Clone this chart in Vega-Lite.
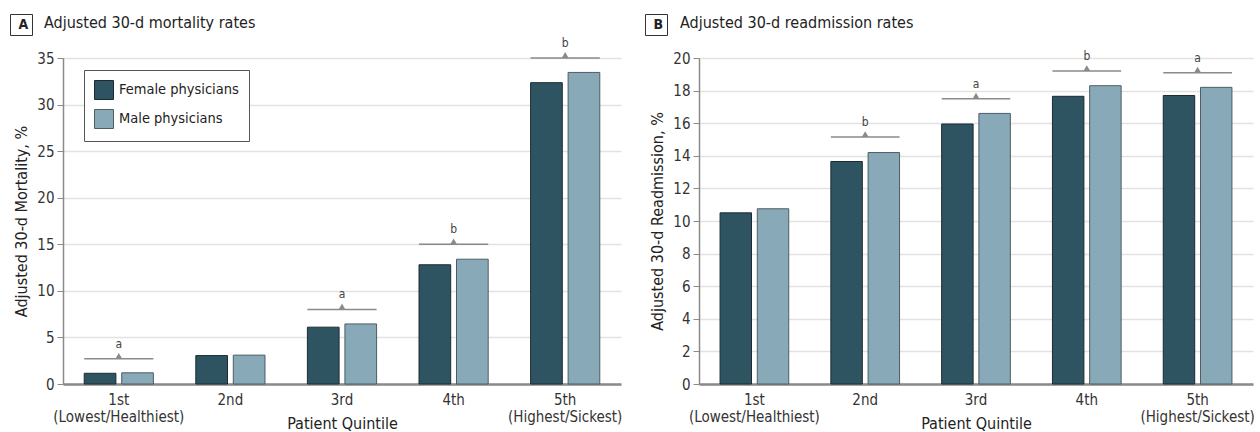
{
  "$schema": "https://vega.github.io/schema/vega-lite/v6.json",
  "background": "white",
  "padding": {"left": 9, "top": 13, "right": 0, "bottom": 0},
  "config": {
    "font": "DejaVu Sans Condensed",
    "view": {"stroke": null},
    "axis": {
      "labelFont": "DejaVu Sans Condensed",
      "titleFont": "DejaVu Sans Condensed",
      "labelFontSize": 15,
      "labelColor": "#333333",
      "titleFontSize": 16,
      "titleFontWeight": "normal",
      "titleColor": "#222222",
      "domainColor": "#8a8a8a",
      "tickColor": "#8a8a8a"
    },
    "axisX": {
      "ticks": false,
      "domainWidth": 2.5,
      "labelPadding": 8,
      "labelLineHeight": 17.5,
      "labelAngle": 0,
      "titleY": 31,
      "titleBaseline": "top"
    },
    "axisY": {
      "tickSize": 6,
      "domainWidth": 1.5,
      "labelPadding": 3,
      "gridColor": "#e2e2e2",
      "gridWidth": 1.5,
      "titlePadding": 7
    },
    "title": {"font": "DejaVu Sans Condensed", "fontSize": 16, "fontWeight": "normal", "color": "#222222"}
  },
  "datasets": {
    "mortality": [
      {"q": "1st|(Lowest/Healthiest)", "sex": "Female physicians", "v": 1.15},
      {"q": "1st|(Lowest/Healthiest)", "sex": "Male physicians", "v": 1.2},
      {"q": "2nd", "sex": "Female physicians", "v": 3.05},
      {"q": "2nd", "sex": "Male physicians", "v": 3.1},
      {"q": "3rd", "sex": "Female physicians", "v": 6.1},
      {"q": "3rd", "sex": "Male physicians", "v": 6.45},
      {"q": "4th", "sex": "Female physicians", "v": 12.8},
      {"q": "4th", "sex": "Male physicians", "v": 13.4},
      {"q": "5th|(Highest/Sickest)", "sex": "Female physicians", "v": 32.35},
      {"q": "5th|(Highest/Sickest)", "sex": "Male physicians", "v": 33.45}
    ],
    "mortalityMarks": [
      {"q": "1st|(Lowest/Healthiest)", "v": 2.7, "letter": "a", "panel": "A"},
      {"q": "3rd", "v": 8.0, "letter": "a", "panel": "A"},
      {"q": "4th", "v": 15.0, "letter": "b", "panel": "A"},
      {"q": "5th|(Highest/Sickest)", "v": 35.0, "letter": "b", "panel": "A"}
    ],
    "readmission": [
      {"q": "1st|(Lowest/Healthiest)", "sex": "Female physicians", "v": 10.5},
      {"q": "1st|(Lowest/Healthiest)", "sex": "Male physicians", "v": 10.75},
      {"q": "2nd", "sex": "Female physicians", "v": 13.65},
      {"q": "2nd", "sex": "Male physicians", "v": 14.2},
      {"q": "3rd", "sex": "Female physicians", "v": 15.95},
      {"q": "3rd", "sex": "Male physicians", "v": 16.6},
      {"q": "4th", "sex": "Female physicians", "v": 17.65},
      {"q": "4th", "sex": "Male physicians", "v": 18.3},
      {"q": "5th|(Highest/Sickest)", "sex": "Female physicians", "v": 17.7},
      {"q": "5th|(Highest/Sickest)", "sex": "Male physicians", "v": 18.2}
    ],
    "readmissionMarks": [
      {"q": "2nd", "v": 15.15, "letter": "b", "panel": "B"},
      {"q": "3rd", "v": 17.5, "letter": "a", "panel": "B"},
      {"q": "4th", "v": 19.2, "letter": "b", "panel": "B"},
      {"q": "5th|(Highest/Sickest)", "v": 19.1, "letter": "a", "panel": "B"}
    ]
  },
  "spacing": 22,
  "resolve": {
    "scale": {"x": "independent", "y": "independent", "xOffset": "independent", "color": "independent", "stroke": "independent", "shape": "independent"},
    "legend": {"color": "independent", "shape": "independent"}
  },
  "hconcat": [
    {
      "width": 558,
      "height": 326,
      "title": {"text": "Adjusted 30-d mortality rates", "anchor": "start", "frame": "group", "offset": 0, "dx": -19, "dy": 17},
      "encoding": {
        "x": {
          "field": "q", "type": "nominal",
          "sort": ["1st|(Lowest/Healthiest)", "2nd", "3rd", "4th", "5th|(Highest/Sickest)"],
          "scale": {"paddingInner": 0.38, "paddingOuter": 0.19},
          "axis": {"title": "Patient Quintile", "labelExpr": "split(datum.value, '|')"}
        },
        "y": {
          "field": "v", "type": "quantitative",
          "scale": {"domain": [0, 35], "nice": false},
          "axis": {"title": "Adjusted 30-d Mortality, %", "values": [0, 5, 10, 15, 20, 25, 30, 35]}
        }
      },
      "layer": [
        {
          "data": {"name": "mortality"},
          "mark": {"type": "bar", "strokeWidth": 1},
          "encoding": {
            "xOffset": {"field": "sex", "type": "nominal", "scale": {"paddingInner": 0.155, "paddingOuter": 0}},
            "color": {
              "field": "sex", "type": "nominal",
              "scale": {"domain": ["Female physicians", "Male physicians"], "range": ["#2e5462", "#87a9b8"]},
              "legend": {
                "title": null, "orient": "none", "legendX": 21, "legendY": 12,
                "symbolType": "square", "symbolSize": 361, "symbolStrokeColor": "#222222", "symbolStrokeWidth": 1,
                "labelFontSize": 14.5, "labelColor": "#222222", "labelOffset": 5, "rowPadding": 5,
                "padding": 10, "strokeColor": "#555555", "fillColor": "white"
              }
            },
            "stroke": {
              "field": "sex", "type": "nominal",
              "scale": {"domain": ["Female physicians", "Male physicians"], "range": ["#1b2b31", "#4f5d63"]},
              "legend": null
            }
          }
        },
        {
          "data": {"name": "mortalityMarks"},
          "mark": {"type": "bar", "fillOpacity": 0, "stroke": "#8a8a8a", "strokeWidth": 1.5},
          "encoding": {"y2": {"field": "v"}}
        },
        {
          "data": {"name": "mortalityMarks"},
          "mark": {"type": "point", "filled": true, "size": 45, "color": "#8a8a8a", "opacity": 1, "yOffset": -3},
          "encoding": {
            "shape": {
              "field": "panel", "type": "nominal",
              "scale": {"range": ["triangle-up"]},
              "legend": {
                "title": null, "orient": "none", "legendX": -53, "legendY": -44,
                "symbolSize": 0.01, "symbolOpacity": 0, "symbolStrokeWidth": 0, "labelOffset": -9,
                "labelFontSize": 14, "labelFontWeight": "bold", "labelColor": "#222222",
                "labelExpr": "'\u00a0' + datum.label + '\u00a0'",
                "padding": 3.5, "strokeColor": "#333333", "fillColor": "white"
              }
            }
          }
        },
        {
          "data": {"name": "mortalityMarks"},
          "mark": {"type": "text", "dy": -15, "fontSize": 12, "color": "#444444"},
          "encoding": {"text": {"field": "letter"}}
        }
      ]
    },
    {
      "width": 554,
      "height": 326,
      "title": {"text": "Adjusted 30-d readmission rates", "anchor": "start", "frame": "group", "offset": 0, "dx": -19, "dy": 17},
      "encoding": {
        "x": {
          "field": "q", "type": "nominal",
          "sort": ["1st|(Lowest/Healthiest)", "2nd", "3rd", "4th", "5th|(Highest/Sickest)"],
          "scale": {"paddingInner": 0.38, "paddingOuter": 0.19},
          "axis": {"title": "Patient Quintile", "labelExpr": "split(datum.value, '|')"}
        },
        "y": {
          "field": "v", "type": "quantitative",
          "scale": {"domain": [0, 20], "nice": false},
          "axis": {"title": "Adjusted 30-d Readmission, %", "values": [0, 2, 4, 6, 8, 10, 12, 14, 16, 18, 20]}
        }
      },
      "layer": [
        {
          "data": {"name": "readmission"},
          "mark": {"type": "bar", "strokeWidth": 1},
          "encoding": {
            "xOffset": {"field": "sex", "type": "nominal", "scale": {"paddingInner": 0.155, "paddingOuter": 0}},
            "color": {
              "field": "sex", "type": "nominal",
              "scale": {"domain": ["Female physicians", "Male physicians"], "range": ["#2e5462", "#87a9b8"]},
              "legend": null
            },
            "stroke": {
              "field": "sex", "type": "nominal",
              "scale": {"domain": ["Female physicians", "Male physicians"], "range": ["#1b2b31", "#4f5d63"]},
              "legend": null
            }
          }
        },
        {
          "data": {"name": "readmissionMarks"},
          "mark": {"type": "bar", "fillOpacity": 0, "stroke": "#8a8a8a", "strokeWidth": 1.5},
          "encoding": {"y2": {"field": "v"}}
        },
        {
          "data": {"name": "readmissionMarks"},
          "mark": {"type": "point", "filled": true, "size": 45, "color": "#8a8a8a", "opacity": 1, "yOffset": -3},
          "encoding": {
            "shape": {
              "field": "panel", "type": "nominal",
              "scale": {"range": ["triangle-up"]},
              "legend": {
                "title": null, "orient": "none", "legendX": -54, "legendY": -44,
                "symbolSize": 0.01, "symbolOpacity": 0, "symbolStrokeWidth": 0, "labelOffset": -9,
                "labelFontSize": 14, "labelFontWeight": "bold", "labelColor": "#222222",
                "labelExpr": "'\u00a0' + datum.label + '\u00a0'",
                "padding": 3.5, "strokeColor": "#333333", "fillColor": "white"
              }
            }
          }
        },
        {
          "data": {"name": "readmissionMarks"},
          "mark": {"type": "text", "dy": -15, "fontSize": 12, "color": "#444444"},
          "encoding": {"text": {"field": "letter"}}
        }
      ]
    }
  ]
}
